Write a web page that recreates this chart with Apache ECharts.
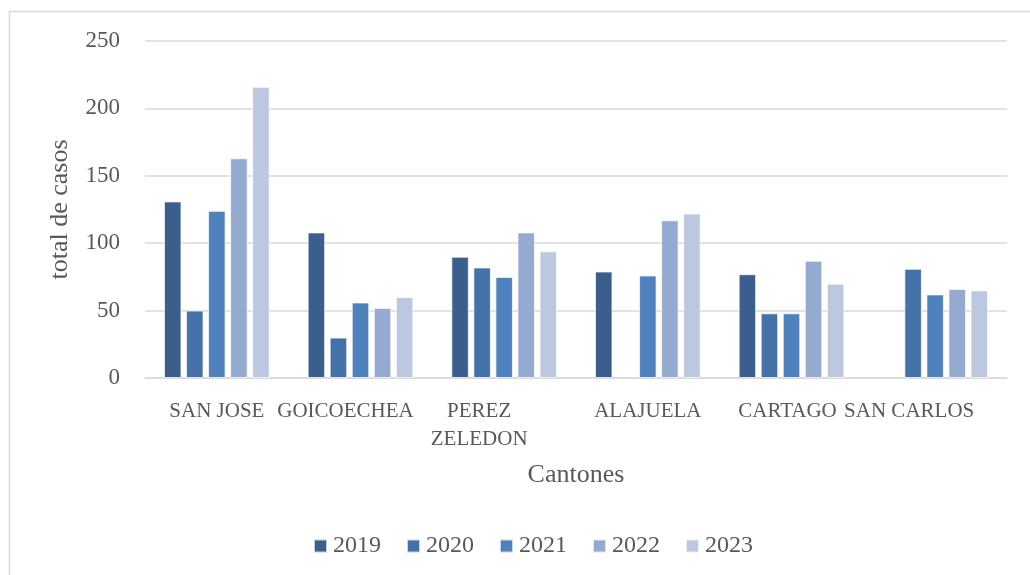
<!DOCTYPE html>
<html lang="es">
<head>
<meta charset="UTF-8">
<title>Cantones</title>
<script src="https://cdn.jsdelivr.net/npm/echarts@6/dist/echarts.min.js"></script>
<style>
  html, body { margin: 0; padding: 0; background: #fff; }
  #main { width: 1030px; height: 575px; }
</style>
</head>
<body>
<div id="main"></div>
<script>
var cantones = ['SAN JOSE', 'GOICOECHEA', 'PEREZ\nZELEDON', 'ALAJUELA', 'CARTAGO', 'SAN CARLOS'];
var years = ['2019', '2020', '2021', '2022', '2023'];
var v2019 = [131, 108, 90, 79, 77, null];
var v2020 = [50, 30, 82, null, 48, 81];
var v2021 = [124, 56, 75, 76, 48, 62];
var v2022 = [163, 52, 108, 117, 87, 66];
var v2023 = [216, 60, 94, 122, 70, 65];
var yTicks = [0, 50, 100, 150, 200, 250];

var colors = ['#3b5f8d', '#4472a8', '#4f81bd', '#95aad0', '#bcc8e0'];
var values = [v2019, v2020, v2021, v2022, v2023];
var font = '"Liberation Serif", "DejaVu Serif", serif';
var textColor = '#595959';

// label nudges, excel pushes some names to the left
var nudge = { 'GOICOECHEA': 30, 'PEREZ\nZELEDON': 50, 'CARTAGO': 8, 'SAN CARLOS': 52 };

var myChart = echarts.init(document.getElementById('main'));

var series = years.map(function (y, i) {
  return {
    name: y,
    type: 'bar',
    barWidth: 17.5,
    barGap: '26%',
    itemStyle: {
      color: colors[i],
      borderColor: 'rgba(255,255,255,0.7)',
      borderWidth: 1
    },
    data: values[i]
  };
});

var option = {
  animation: false,
  backgroundColor: '#fff',
  textStyle: { fontFamily: font, color: textColor },
  graphic: [{
    type: 'rect',
    shape: { x: 9.5, y: 11.5, width: 1100, height: 700 },
    style: { fill: 'none', stroke: '#d9d9d9', lineWidth: 1.5 },
    silent: true
  }],
  color: colors,
  legend: {
    left: 313,
    top: 534,
    padding: 0,
    itemWidth: 13,
    itemHeight: 13,
    itemGap: 25,
    icon: 'rect',
    textStyle: { fontFamily: font, fontSize: 24, color: textColor, padding: [0, 0, 0, 1] },
    data: years
  },
  grid: {
    left: 145,
    right: 23,
    top: 41,
    bottom: 197
  },
  xAxis: {
    type: 'category',
    data: cantones,
    name: 'Cantones',
    nameLocation: 'middle',
    nameGap: 84,
    nameTextStyle: { fontFamily: font, fontSize: 26, color: textColor },
    axisLine: { lineStyle: { color: '#d9d9d9', width: 1.5 } },
    axisTick: { show: false },
    axisLabel: {
      interval: 0,
      margin: 19,
      fontFamily: font,
      fontSize: 21,
      lineHeight: 28,
      color: textColor,
      formatter: function (v) {
        var p = nudge[v] || 0;
        return v.split('\n').map(function (line) {
          return '{a|' + line + '}' + (p ? '{s' + p + '|}' : '');
        }).join('\n');
      },
      rich: {
        a: { fontFamily: font, fontSize: 21, lineHeight: 28, color: textColor },
        s8: { width: 8 },
        s30: { width: 30 },
        s50: { width: 50 },
        s52: { width: 52 }
      }
    }
  },
  yAxis: {
    type: 'value',
    min: yTicks[0],
    max: yTicks[yTicks.length - 1],
    interval: 50,
    name: 'total de casos',
    nameLocation: 'middle',
    nameGap: 72,
    nameTextStyle: { fontFamily: font, fontSize: 26, color: textColor },
    axisLine: { show: false },
    axisTick: { show: false },
    axisLabel: { margin: 25, fontFamily: font, fontSize: 23, color: textColor },
    splitLine: { lineStyle: { color: '#d9d9d9', width: 1.5 } }
  },
  series: series
};
myChart.setOption(option);
</script>
</body>
</html>
